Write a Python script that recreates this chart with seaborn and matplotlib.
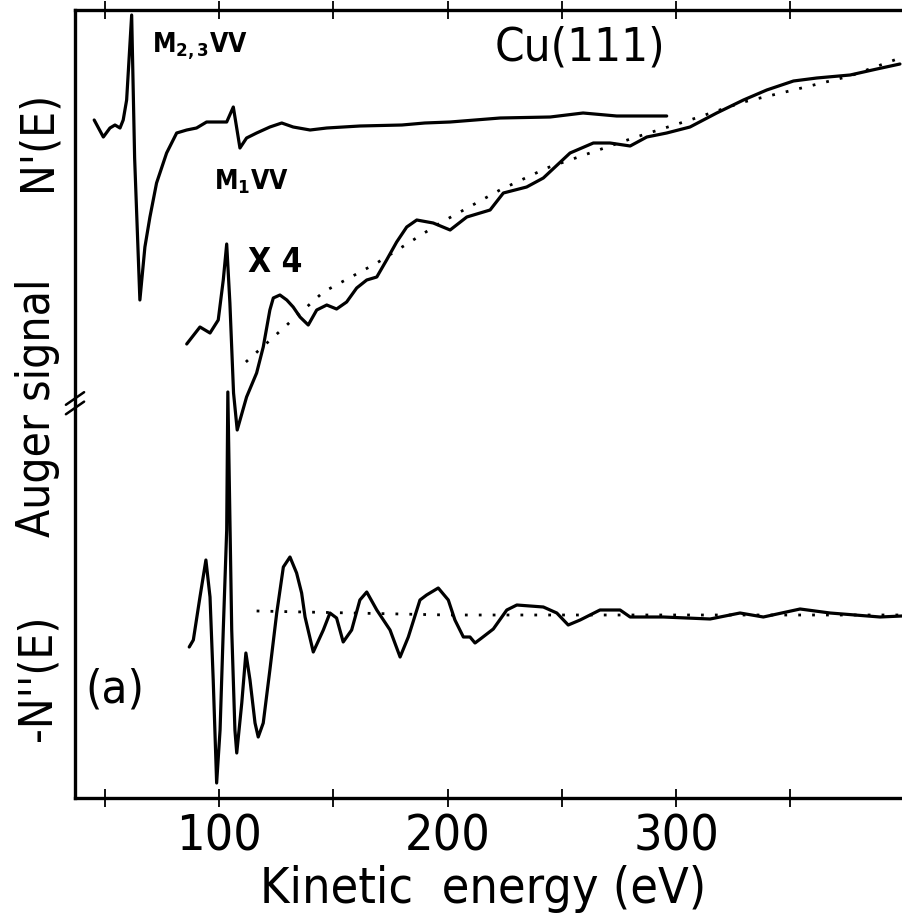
import matplotlib
matplotlib.use("Agg")
import matplotlib.pyplot as plt
import seaborn as sns

# N'(E): espectro derivado (curva de cima)
energia_d1 = [45.3, 49.3, 52.2, 54.4, 56.6, 58.0, 59.5, 61.7, 63.0, 65.3, 67.5, 69.7, 72.6,
              77.0, 81.4, 85.8, 90.1, 94.5, 98.9, 103.3, 106.2, 109.1, 112.0, 116.4,
              122.2, 127.4, 132.4, 139.8, 147.1, 161.6, 180.0, 190.0, 201.1, 223.0,
              244.9, 259.3, 274.0, 295.9]
sinal_d1 = [678, 661, 670, 673, 670, 678, 698, 783, 640, 498, 551, 581, 615,
            645, 665, 668, 670, 676, 676, 676, 691, 650, 660, 665,
            671, 675, 671, 668, 670, 672, 673, 675, 676, 680,
            681, 685, 682, 682]

# N'(E) x4 com fundo crescente
energia_x4 = [85.8, 91.6, 96.0, 99.6, 101.8, 103.3, 104.7, 106.3, 107.9, 112.0, 116.4,
              119.3, 122.2, 123.7, 126.6, 129.6, 132.4, 135.4, 139.0, 142.7, 147.1,
              151.4, 155.8, 160.2, 164.6, 169.0, 173.3, 177.7, 182.1, 186.5, 193.7,
              201.1, 208.4, 218.6, 224.4, 234.6, 241.9, 253.6, 263.8, 271.1, 279.9,
              287.2, 295.9, 306.1, 317.8, 329.5, 339.7, 351.4, 361.6, 376.2, 387.9, 398.0]
sinal_x4 = [454, 471, 465, 478, 518, 554, 495, 405, 368, 401, 425,
            451, 488, 500, 503, 498, 491, 481, 473, 488, 493,
            489, 496, 510, 518, 521, 538, 556, 571, 578, 575,
            568, 581, 588, 605, 611, 620, 645, 655, 655, 652,
            661, 665, 671, 685, 698, 708, 717, 720, 723, 729, 734]

# fundo pontilhado do x4
energia_fundo_x4 = [111.7, 145.6, 169.0, 196.7, 222.9, 243.4, 281.2, 306.1, 329.5, 351.4, 376.2, 398.0]
sinal_fundo_x4 = [436, 506, 535, 575, 608, 630, 660, 678, 696, 708, 722, 740]

# -N''(E): segunda derivada (curva de baixo)
energia_d2 = [86.9, 88.7, 91.6, 94.2, 96.0, 97.4, 98.9, 100.4, 101.8, 103.3, 103.8,
              105.5, 106.9, 107.7, 109.9, 111.7, 113.5, 115.7, 117.1, 119.3, 122.2,
              125.2, 128.1, 131.0, 133.9, 136.1, 137.6, 141.2, 145.6, 148.5, 151.4,
              154.3, 158.0, 161.6, 164.6, 169.0, 174.8, 179.2, 182.8, 187.9, 190.8,
              195.9, 200.3, 203.2, 206.9, 209.8, 212.0, 214.9, 220.0, 225.9, 230.3,
              241.9, 247.8, 252.8, 258.0, 266.7, 275.5, 279.9, 294.4, 314.9, 328.0,
              338.2, 354.3, 367.4, 389.3, 398.9]
sinal_d2 = [151, 158, 201, 238, 201, 118, 15, 68, 168, 268, 406,
            168, 68, 45, 95, 145, 118, 75, 61, 75, 128,
            185, 231, 241, 225, 205, 181, 146, 168, 185, 180,
            156, 168, 198, 206, 188, 168, 141, 161, 198, 203,
            210, 198, 178, 161, 161, 155, 160, 169, 188, 193,
            191, 185, 173, 178, 188, 188, 181, 181, 179, 185,
            181, 189, 185, 181, 182]

# linha de base pontilhada da -N''(E)
energia_base_d2 = [116.4, 200.0, 398.0]
sinal_base_d2 = [187, 183, 183]

ticks_maiores = [100, 200, 300]
ticks_menores = [50, 150, 250, 350]

sns.set_theme(style="ticks")
plt.rcParams['font.family'] = ['DejaVu Sans Condensed', 'DejaVu Sans']
plt.rcParams['font.stretch'] = 'condensed'
plt.rcParams['text.color'] = 'black'
plt.rcParams['axes.labelcolor'] = 'black'

fig = plt.figure(figsize=(9.02, 9.17), dpi=100)
ax = fig.add_axes([75 / 902, 119 / 917, 827 / 902, 788 / 917])

estilo = dict(color='black', linewidth=2.3, estimator=None, ax=ax, legend=False)
sns.lineplot(x=energia_d1, y=sinal_d1, **estilo)
sns.lineplot(x=energia_x4, y=sinal_x4, **estilo)
sns.lineplot(x=energia_d2, y=sinal_d2, **estilo)
ax.plot(energia_fundo_x4, sinal_fundo_x4, color='black', linewidth=2.0,
        linestyle=(0, (1, 4)))
ax.plot(energia_base_d2, sinal_base_d2, color='black', linewidth=2.0,
        linestyle=(0, (1, 4)))

ax.set_xlim(36.9, 398.9)
ax.set_ylim(0, 788)
ax.set_xticks(ticks_maiores)
ax.set_xticks(ticks_menores, minor=True)
ax.set_yticks([])
ax.tick_params(axis='x', which='both', direction='inout', length=13, width=1.3,
               top=True, bottom=True, colors='black', labelsize=36, pad=4)
for lado in ['left', 'bottom', 'top']:
    ax.spines[lado].set_linewidth(2.4)
    ax.spines[lado].set_color('black')
ax.spines['right'].set_visible(False)

ax.set_xlabel('Kinetic  energy (eV)', fontsize=36, color='black')
ax.xaxis.set_label_coords(0.493, -0.085)

# marca de quebra no eixo y
for dy in [-0.006, 0.006]:
    ax.plot([-0.011, 0.011], [0.493 + dy, 0.509 + dy], transform=ax.transAxes,
            color='black', linewidth=1.8, clip_on=False)

# rótulos do eixo y
fig.text(38 / 902, 0.846, "N'(E)", rotation=90, fontsize=33, ha='center', va='center')
fig.text(38 / 902, 0.555, 'Auger signal', rotation=90, fontsize=33, ha='center', va='center')
fig.text(38 / 902, 0.261, "-N''(E)", rotation=90, fontsize=33, ha='center', va='center')

# anotações
fig.text(580 / 902, 0.948, 'Cu(111)', fontsize=34, ha='center', va='center')
fig.text(152 / 902, (917 - 52) / 917, r'M$_{\mathregular{2,3}}$VV', fontsize=19,
         fontweight='bold', ha='left', va='baseline')
fig.text(214 / 902, (917 - 190) / 917, r'M$_{\mathregular{1}}$VV', fontsize=19,
         fontweight='bold', ha='left', va='baseline')
fig.text(248 / 902, (917 - 272) / 917, 'X 4', fontsize=24, fontweight='bold',
         ha='left', va='baseline')
fig.text(85 / 902, (917 - 690) / 917, '(a)', fontsize=34, ha='left', va='center')

fig.savefig('out.png', dpi=100, facecolor='white')
